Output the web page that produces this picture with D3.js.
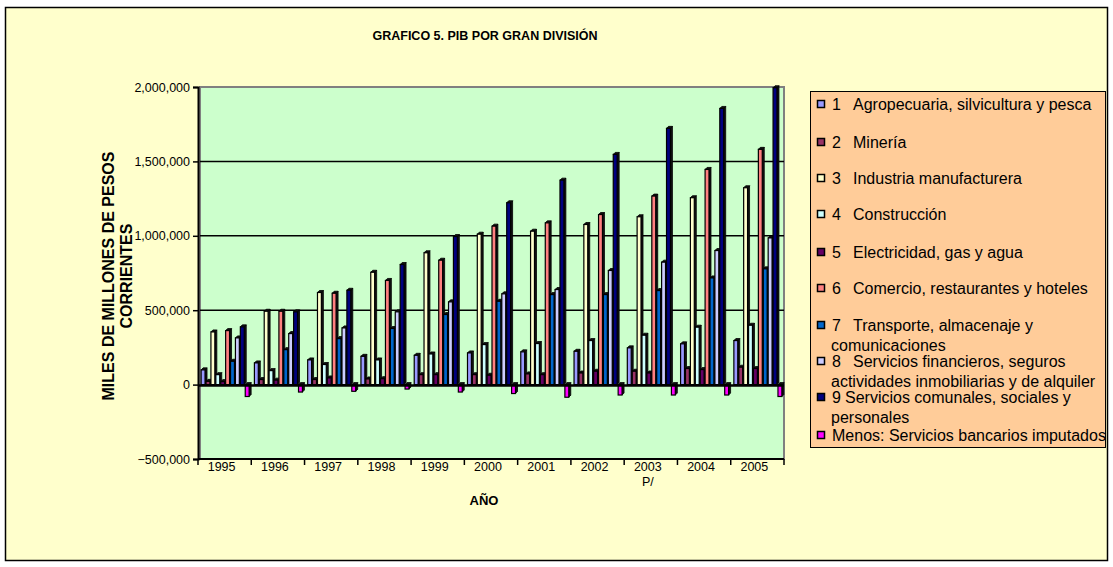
<!DOCTYPE html>
<html>
<head>
<meta charset="utf-8">
<script src="https://cdn.jsdelivr.net/npm/d3@7"></script>
<style>
  html, body { margin: 0; padding: 0; background: #ffffff; }
  svg { display: block; font-family: "Liberation Sans", Arial, sans-serif; }
</style>
</head>
<body>
<svg id="chart" width="1113" height="567"></svg>
<script>
// ---------- DATA ----------
const years = ["1995","1996","1997","1998","1999","2000","2001","2002","2003","2004","2005"];
const yTicks = [-500000, 0, 500000, 1000000, 1500000, 2000000];

const agropecuaria   = [99000,146000,166000,190000,197000,213000,220000,224000,247000,274000,296000];
const mineria        = [22000,34000,34000,38000,67000,67000,72000,78000,90000,108000,117000];
const industria      = [354000,493000,619000,755000,886000,1011000,1031000,1076000,1128000,1256000,1323000];
const construccion   = [67000,94000,135000,166000,206000,269000,276000,296000,332000,386000,399000];
const electricidad   = [20000,30000,45000,40000,67000,63000,67000,90000,78000,101000,108000];
const comercio       = [363000,493000,614000,700000,836000,1065000,1087000,1143000,1267000,1446000,1581000];
const transporte     = [157000,235000,309000,377000,471000,560000,605000,605000,632000,717000,778000];
const financieros    = [314000,343000,381000,489000,556000,610000,639000,767000,823000,901000,986000];
const comunales      = [388000,489000,634000,807000,995000,1222000,1374000,1547000,1722000,1856000,1995000];
const bancarios      = [-80000,-50000,-45000,-30000,-50000,-60000,-85000,-70000,-70000,-70000,-80000];

const seriesValues = [agropecuaria, mineria, industria, construccion, electricidad,
                      comercio, transporte, financieros, comunales, bancarios];

const legendNumbers = ["1","2","3","4","5","6","7","8","9",""];
const legendLabels = [
  ["Agropecuaria, silvicultura y pesca"],
  ["Minería"],
  ["Industria manufacturera"],
  ["Construcción"],
  ["Electricidad, gas y agua"],
  ["Comercio, restaurantes y hoteles"],
  ["Transporte, almacenaje y", "comunicaciones"],
  ["Servicios financieros, seguros", "actividades inmobiliarias y de alquiler"],
  ["Servicios comunales, sociales y", "personales"],
  ["Menos: Servicios bancarios imputados"]
];

// ---------- STYLE ----------
const colors = ["#9999FF","#993366","#FFFFCC","#CCFFFF","#660066",
                "#FF8080","#0066CC","#CCCCFF","#000080","#FF00FF"];

const svg = d3.select("#chart");

// outer chart area
svg.append("rect").attr("x",5.5).attr("y",7.5).attr("width",1102).attr("height",553)
   .attr("fill","#FFFFCC").attr("stroke","#000").attr("stroke-width",1.5);

// title
svg.append("text").attr("x",485).attr("y",40).attr("text-anchor","middle")
   .attr("font-size","12.5px").attr("font-weight","bold").text("GRAFICO 5. PIB POR GRAN DIVISIÓN");

// scales
const plotL = 198, plotR = 784, plotT = 87, plotB = 459;
const y = d3.scaleLinear().domain([-500000, 2000000]).range([plotB, plotT]);
const xb = d3.scaleBand().domain(years).range([plotL, plotR]).padding(0);
const x0 = d3.scaleBand().domain(years).range([plotL + 1, plotR + 1]).paddingInner(0.08).paddingOuter(0.04);
const x1 = d3.scaleBand().domain(d3.range(seriesValues.length)).range([0, x0.bandwidth()]).padding(0);

// plot wall
svg.append("rect").attr("x",plotL+2).attr("y",plotT).attr("width",plotR-plotL-2).attr("height",plotB-plotT)
   .attr("fill","#CCFFCC").attr("stroke","#808080").attr("stroke-width",2);

// gridlines
svg.append("g").selectAll("line").data(yTicks.filter(d => d > 0 && d < 2000000)).join("line")
   .attr("x1",plotL+2).attr("x2",plotR).attr("y1",d=>y(d)).attr("y2",d=>y(d))
   .attr("stroke","#000").attr("stroke-width",1.5);

// bars (pseudo 3D: front face + dark side and top)
const depth = 2;
const g = svg.append("g");
years.forEach((yr, i) => {
  seriesValues.forEach((vals, si) => {
    const v = vals[i];
    const bx = x0(yr) + x1(si);
    const bw = x1.bandwidth() - 1;
    const top = y(Math.max(0, v)), bot = y(Math.min(0, v));
    const cell = g.append("g");
    cell.append("path")
      .attr("d", `M${bx+bw},${bot} L${bx+bw+depth},${bot-depth} L${bx+bw+depth},${top-depth} L${bx+bw},${top} Z`)
      .attr("fill","#111").attr("stroke","#000").attr("stroke-width",0.8);
    cell.append("path")
      .attr("d", `M${bx},${top} L${bx+depth},${top-depth} L${bx+bw+depth},${top-depth} L${bx+bw},${top} Z`)
      .attr("fill","#111").attr("stroke","#000").attr("stroke-width",0.8);
    cell.append("rect").attr("x",bx).attr("y",top).attr("width",bw).attr("height",Math.max(0.5, bot-top))
      .attr("fill",colors[si]).attr("stroke","#000").attr("stroke-width",1.2);
  });
});

// floor / zero line
svg.append("line").attr("x1",plotL).attr("x2",plotR).attr("y1",y(0)+1).attr("y2",y(0)+1)
   .attr("stroke","#000").attr("stroke-width",2.5);

// y axis
const yAxis = d3.axisLeft(y).tickValues(yTicks).tickSize(5).tickPadding(3)
   .tickFormat(d3.format(","));
const ya = svg.append("g").attr("transform",`translate(${plotL},0)`).call(yAxis);
ya.select(".domain").attr("stroke","#000").attr("stroke-width",2);
ya.selectAll(".tick line").attr("stroke","#000").attr("stroke-width",1.5);
ya.selectAll("text").attr("font-size","12.5px").attr("fill","#000")
   .attr("font-family","'Liberation Sans', Arial, sans-serif");

// x axis
const xa = svg.append("g").attr("transform",`translate(0,${plotB})`);
xa.append("line").attr("x1",plotL).attr("x2",plotR).attr("stroke","#000").attr("stroke-width",2);
const bounds = years.map(d => xb(d)).concat([plotR]);
xa.selectAll("line.tk").data(bounds).join("line").attr("class","tk")
  .attr("x1",d=>d).attr("x2",d=>d).attr("y1",0).attr("y2",6)
  .attr("stroke","#000").attr("stroke-width",1.5);
xa.selectAll("text.yr").data(years).join("text").attr("class","yr")
  .attr("x", d => xb(d) + xb.bandwidth()/2 - 3).attr("y", 12)
  .attr("text-anchor","middle").attr("font-size","12.5px").text(d=>d);
xa.append("text").attr("x", xb("2003") + xb.bandwidth()/2 - 3).attr("y", 27)
  .attr("text-anchor","middle").attr("font-size","12.5px").text("P/");

// axis titles
svg.append("text").attr("x",484).attr("y",505).attr("text-anchor","middle")
   .attr("font-size","13px").attr("font-weight","bold").text("AÑO");
const yt = svg.append("text").attr("transform","translate(114,276) rotate(-90)")
   .attr("text-anchor","middle").attr("font-size","16px").attr("font-weight","bold");
yt.append("tspan").attr("x",0).attr("y",0).text("MILES DE MILLONES DE PESOS");
yt.append("tspan").attr("x",0).attr("y",18).text("CORRIENTES");

// legend
const lg = svg.append("g");
lg.append("rect").attr("x",810.5).attr("y",91.5).attr("width",295).attr("height",356)
  .attr("fill","#FFCC99").attr("stroke","#000").attr("stroke-width",1);
const legendY = [104,142,178,214,252,288,325,361,397,435];
legendLabels.forEach((lines, i) => {
  const cy = legendY[i];
  lg.append("rect").attr("x",817.5).attr("y",cy-3.5).attr("width",7).attr("height",7)
    .attr("fill",colors[i]).attr("stroke","#000").attr("stroke-width",1.5);
  const t = lg.append("text").attr("font-size","16px").attr("dominant-baseline","central");
  let lx = 832;
  if (legendNumbers[i] !== "") {
    t.append("tspan").attr("x",832).attr("y",cy).text(legendNumbers[i]);
    lx = (i === 8) ? 845 : 853;
  }
  t.append("tspan").attr("x",lx).attr("y",cy).text(lines[0]);
  if (lines[1]) t.append("tspan").attr("x",831).attr("y",cy+20).text(lines[1]);
});
</script>
</body>
</html>
